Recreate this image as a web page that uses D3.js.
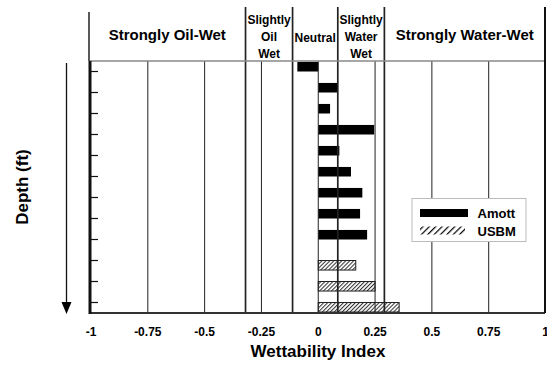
<!DOCTYPE html>
<html>
<head>
<meta charset="utf-8">
<script src="https://cdn.jsdelivr.net/npm/d3@7"></script>
<style>
  body { margin: 0; background: #fff; }
  svg { display: block; font-family: "Liberation Sans", Arial, sans-serif; font-weight: bold; }
</style>
</head>
<body>
<div id="chart"></div>
<script>
// depth samples, top to bottom (no labels on the axis)
const depths = ['S1', 'S2', 'S3', 'S4', 'S5', 'S6', 'S7', 'S8', 'S9', 'S10', 'S11', 'S12']
const series = ['Amott', 'USBM']
const amott = [-0.092, 0.084, 0.052, 0.246, 0.093, 0.144, 0.194, 0.184, 0.215, null, null, null]
const usbm = [null, null, null, null, null, null, null, null, null, 0.165, 0.25, 0.356]
const xTicks = [-1, -0.75, -0.5, -0.25, 0, 0.25, 0.5, 0.75, 1]
const zoneEdges = [-0.32, -0.113, 0.086, 0.291]
const zoneLabels = [
	['Strongly Oil-Wet'],
	['Slightly', 'Oil', 'Wet'],
	['Neutral'],
	['Slightly', 'Water', 'Wet'],
	['Strongly Water-Wet']
]

const width = 547, height = 366,
	plotTop = 61, plotBottom = 313, plotLeft = 90, plotRight = 545

const svg = d3.select('#chart').append('svg')
	.attr('width', width)
	.attr('height', height)

const defs = svg.append('defs')
function hatch(id, size, color, sw) {
	const p = defs.append('pattern')
		.attr('id', id)
		.attr('patternUnits', 'userSpaceOnUse')
		.attr('width', size)
		.attr('height', size)
		.attr('patternTransform', 'rotate(45)')
	p.append('rect').attr('width', size).attr('height', size).attr('fill', '#fff')
	p.append('line')
		.attr('x1', 0.5).attr('y1', 0).attr('x2', 0.5).attr('y2', size)
		.attr('stroke', color).attr('stroke-width', sw)
}
hatch('hatch', 2.8, '#333', 1.1)
hatch('hatchLegend', 4.5, '#000', 1.4)

const x = d3.scaleLinear().domain([-1, 1]).range([91, 545.5])
const y = d3.scaleBand().domain(depths).range([plotTop, plotBottom])
const ySub = d3.scaleBand().domain(series).range([0, y.bandwidth()]).paddingOuter(0.1)

// bars
const rows = depths.map((d, i) => ({ depth: d, Amott: amott[i], USBM: usbm[i] }))
const barData = []
rows.forEach(r => series.forEach(s => { if (r[s] != null) barData.push({ depth: r.depth, key: s, value: r[s] }) }))

svg.append('g').selectAll('rect')
	.data(barData)
	.enter().append('rect')
		.attr('x', d => x(Math.min(0, d.value)))
		.attr('width', d => Math.abs(x(d.value) - x(0)))
		.attr('y', d => y(d.depth) + ySub(d.key))
		.attr('height', ySub.bandwidth())
		.attr('fill', d => d.key === 'Amott' ? '#000' : 'url(#hatch)')
		.attr('stroke', d => d.key === 'Amott' ? '#000' : '#222')
		.attr('stroke-width', d => d.key === 'Amott' ? 0 : 1)

// gridlines
svg.append('g').selectAll('line')
	.data(xTicks.slice(1, -1))
	.enter().append('line')
		.attr('x1', d => x(d)).attr('x2', d => x(d))
		.attr('y1', plotTop).attr('y2', plotBottom)
		.attr('stroke', '#222')
		.attr('stroke-width', 1)

// zone boundaries, running up into the header
svg.append('g').selectAll('line')
	.data(zoneEdges)
	.enter().append('line')
		.attr('x1', d => x(d)).attr('x2', d => x(d))
		.attr('y1', 7).attr('y2', plotBottom)
		.attr('stroke', '#222')
		.attr('stroke-width', 1.7)

// frame
svg.append('line').attr('x1', plotLeft).attr('x2', plotRight).attr('y1', plotTop).attr('y2', plotTop)
	.attr('stroke', '#888').attr('stroke-width', 1.5)
svg.append('line').attr('x1', plotLeft).attr('x2', plotRight).attr('y1', plotBottom).attr('y2', plotBottom)
	.attr('stroke', '#333').attr('stroke-width', 2)
svg.append('line').attr('x1', 89).attr('x2', 89).attr('y1', 12).attr('y2', plotTop)
	.attr('stroke', '#222').attr('stroke-width', 1.5)
svg.append('line').attr('x1', plotRight).attr('x2', plotRight).attr('y1', 7).attr('y2', plotBottom)
	.attr('stroke', '#111').attr('stroke-width', 2)
svg.append('line').attr('x1', plotLeft).attr('x2', plotLeft).attr('y1', plotTop).attr('y2', plotBottom + 1)
	.attr('stroke', '#111').attr('stroke-width', 3)

// depth ticks (inward)
svg.append('g').selectAll('line')
	.data(depths)
	.enter().append('line')
		.attr('x1', plotLeft).attr('x2', plotLeft + 8)
		.attr('y1', d => y(d) + y.bandwidth() / 2)
		.attr('y2', d => y(d) + y.bandwidth() / 2)
		.attr('stroke', '#111').attr('stroke-width', 1.2)

// x tick labels
svg.append('g').selectAll('text')
	.data(xTicks)
	.enter().append('text')
		.attr('x', d => x(d))
		.attr('y', 336)
		.attr('text-anchor', 'middle')
		.attr('font-size', '12px')
		.attr('fill', '#000')
		.text(d => String(d))

svg.append('text')
	.attr('x', 318).attr('y', 357)
	.attr('text-anchor', 'middle')
	.attr('font-size', '17px')
	.attr('fill', '#000')
	.text('Wettability Index')

svg.append('text')
	.attr('transform', 'translate(28,187) rotate(-90)')
	.attr('text-anchor', 'middle')
	.attr('font-size', '17px')
	.attr('fill', '#000')
	.text('Depth (ft)')

// depth arrow
svg.append('line').attr('x1', 66.5).attr('x2', 66.5).attr('y1', 63).attr('y2', 304)
	.attr('stroke', '#111').attr('stroke-width', 1.3)
svg.append('path')
	.attr('d', 'M61.5,302 L71.5,302 L66.5,314 Z')
	.attr('fill', '#000')

// zone header labels
const bounds = [89].concat(zoneEdges.map(x), [plotRight])
zoneLabels.forEach((lines, i) => {
	const cx = (bounds[i] + bounds[i + 1]) / 2
	const big = lines[0].startsWith('Strongly')
	const t = svg.append('text')
		.attr('text-anchor', 'middle')
		.attr('font-size', big ? '15px' : '12px')
		.attr('fill', '#000')
	if (lines.length === 1) {
		t.attr('x', cx).attr('y', big ? 40 : 41.5).text(lines[0])
		if (lines[0] === 'Strongly Water-Wet') t.attr('textLength', 138).attr('lengthAdjust', 'spacingAndGlyphs')
	} else {
		lines.forEach((l, j) => {
			t.append('tspan').attr('x', cx).attr('y', 23.5 + j * 17).text(l)
		})
	}
})

// legend
const lg = svg.append('g').attr('transform', 'translate(412,198.5)')
lg.append('rect').attr('width', 114).attr('height', 43)
	.attr('fill', '#fff').attr('stroke', '#bbb').attr('stroke-width', 1)
series.forEach((s, i) => {
	lg.append('rect')
		.attr('x', 8).attr('y', 10.5 + i * 17.5)
		.attr('width', i === 0 ? 48 : 45).attr('height', 8)
		.attr('fill', i === 0 ? '#000' : 'url(#hatchLegend)')
	lg.append('text')
		.attr('x', 65.5).attr('y', 19 + i * 18)
		.attr('font-size', '13px')
		.attr('fill', '#000')
		.text(s)
})
</script>
</body>
</html>
